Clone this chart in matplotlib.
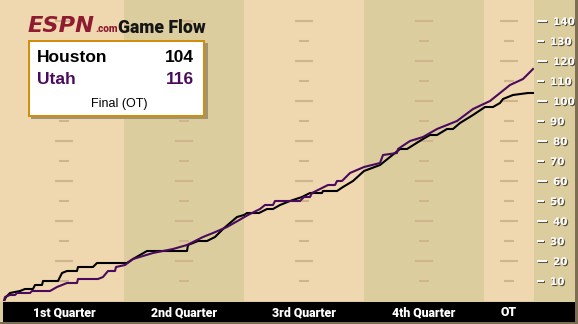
import numpy as np
import matplotlib
matplotlib.use('Agg')
import matplotlib.pyplot as plt
import matplotlib.patheffects as pe
import matplotlib.ticker as mticker
import matplotlib.transforms as mtrans
from matplotlib.patches import Rectangle

# running score vs game clock (minutes; 48 regulation + 5 OT)
hou_min = [0, 0.2, 0.6, 1.6, 2.1, 2.9, 3.1, 3.8, 3.9, 5.4, 5.8, 6.3, 7.3, 7.4, 8.9,
           9.3, 12.3, 12.9, 14.3, 18.3, 18.4, 19.4, 20.3, 21.1, 21.9, 22.6, 23.3,
           24.0, 24.3, 25.5, 26.3, 26.9, 27.6, 28.6, 29.8, 30.6, 31.8, 31.9, 33.3,
           33.9, 34.9, 36.0, 37.6, 38.6, 39.6, 40.3, 41.9, 42.6, 43.3, 44.3, 44.9,
           45.6, 46.9, 48.1, 48.9, 49.6, 49.9, 50.9, 52.4, 52.9]
hou_pts = [0, 2, 4, 5, 6, 6, 8, 8, 10, 10, 14, 15, 15, 17, 17,
           19, 19, 21, 25, 25, 28, 30, 30, 32, 36, 39, 42,
           43, 44, 44, 46, 46, 48, 50, 52, 54, 54, 55, 55,
           57, 60, 65, 68, 72, 76, 76, 81, 83, 83, 86, 86,
           89, 93, 97, 97, 99, 101, 103, 104, 104]

uta_min = [0, 0.1, 0.6, 1.1, 1.3, 2.6, 2.8, 4.6, 5.3, 6.3, 7.3, 7.4, 9.4, 9.9,
           10.4, 11.1, 11.2, 12.1, 12.9, 14.9, 16.9, 18.3, 19.9, 20.9, 22.3, 24.4,
           25.6, 26.1, 26.9, 27.1, 29.6, 30.0, 30.6, 30.8, 31.6, 32.4, 33.1, 33.3,
           33.8, 34.6, 36.0, 37.6, 37.9, 39.3, 39.4, 40.6, 41.9, 43.3, 45.3, 46.9,
           48.6, 49.6, 50.6, 51.9, 52.9]
uta_pts = [0, 2, 3, 3, 4, 4, 5, 5, 7, 9, 9, 11, 11, 12,
           15, 15, 17, 18, 21, 24, 26, 28, 32, 34, 37, 43,
           46, 48, 48, 50, 50, 52, 52, 54, 56, 58, 58, 60,
           60, 64, 67, 69, 73, 74, 76, 80, 82, 86, 90, 96,
           100, 104, 108, 111, 116]

periods = ['1st Quarter', '2nd Quarter', '3rd Quarter', '4th Quarter', 'OT']
period_start = [0, 12, 24, 36, 48]
period_end = [12, 24, 36, 48, 53]

score_ticks = list(range(10, 150, 10))
teams = ['Houston', 'Utah']
finals = [104, 116]
status = 'Final (OT)'

LIGHT = '#efd7af'
DARK = '#dccd9f'
GRID = '#cfb48c'
PURPLE = '#4b0a5e'
SANS = 'Liberation Sans'
HEAVY = ['Roboto', 'DejaVu Sans']

W, H = 578, 324
fig = plt.figure(figsize=(W / 100, H / 100), dpi=100, facecolor=DARK)

ax = fig.add_axes([0, 23 / H, 534 / W, 301 / H])
ax.set_xlim(-0.4, 53)
ax.set_ylim(0, 150.5)
ax.set_facecolor(DARK)

# alternating period bands and short guide dashes in the middle of each
for i, (a, b) in enumerate(zip(period_start, period_end)):
    ax.axvspan(a if i else -0.4, b, color=LIGHT if i % 2 == 0 else DARK,
               lw=0, zorder=0)
    mid = (a + b) / 2
    for v in score_ticks:
        half = 0.9 if v % 20 == 0 else 0.5
        ax.hlines(v, mid - half, mid + half, color=GRID, lw=1.5, zorder=1)

ax.plot(hou_min, hou_pts, color='black', lw=1.5, zorder=3)
ax.plot(uta_min, uta_pts, color=PURPLE, lw=1.5, zorder=4)

# score axis on the right
for s in ['left', 'top', 'bottom']:
    ax.spines[s].set_visible(False)
ax.spines['right'].set_position(('outward', 2.2))
ax.spines['right'].set_visible(False)
ax.set_xticks([])
ax.yaxis.tick_right()
ax.yaxis.set_major_locator(mticker.FixedLocator([v for v in score_ticks if v % 20 == 0]))
ax.yaxis.set_minor_locator(mticker.FixedLocator([v for v in score_ticks if v % 20]))
ax.yaxis.set_major_formatter(mticker.FormatStrFormatter('%d'))
ax.yaxis.set_minor_formatter(mticker.FormatStrFormatter('%d'))
ax.tick_params(axis='y', which='major', length=7.2, width=1.4, color='white',
               labelcolor='white', labelsize=7.5, pad=4.3)
ax.tick_params(axis='y', which='minor', length=5.0, width=1.4, color='white',
               labelcolor='white', labelsize=7.5, pad=4.3)
shadow = [pe.withSimplePatchShadow(offset=(0.8, -0.8), shadow_rgbFace='#5a5040', alpha=1)]
for lab in ax.get_yticklabels(which='both'):
    lab.set_fontweight('bold')
    lab.set_path_effects(shadow)
for t in ax.yaxis.get_major_ticks() + ax.yaxis.get_minor_ticks():
    t.tick2line.set_path_effects([pe.SimpleLineShadow(offset=(0.8, -0.8),
                                  shadow_color='#5a5040', alpha=1), pe.Normal()])

# overlay in pixel units for frame, period bar, title and score box
ov = fig.add_axes([0, 0, 1, 1], zorder=5)
ov.set_xlim(0, W)
ov.set_ylim(H, 0)
ov.axis('off')
ov.patch.set_alpha(0)

ov.add_patch(Rectangle((3, 302), 572, 20, color='black', lw=0))
ov.add_patch(Rectangle((575, 0), 3, H, color='#7d6d52', lw=0))
ov.add_patch(Rectangle((0, 322), W, 2, color='#7d6d52', lw=0))

bar = mtrans.blended_transform_factory(ax.transData, ov.transData)
for name, a, b in zip(periods, period_start, period_end):
    ov.text((a + b) / 2, 312.5, name, transform=bar, ha='center', va='center',
            color='white', fontsize=8.8, fontweight='black', family=HEAVY)

ov.text(28, 32, 'ESPN', color='#8e1b30', fontsize=16.2, fontweight='bold',
        style='italic', family='DejaVu Sans', va='baseline')
ov.hlines([21.5, 26.5], 28, 96, color=LIGHT, lw=0.5)
ov.text(95, 32, '.com', color='#8e1b30', fontsize=7.2, fontweight='black',
        family=HEAVY, va='baseline')
ov.text(118, 33, 'Game Flow', color='#161616', fontsize=12.7, fontweight='black',
        family=HEAVY, va='baseline')

ov.add_patch(Rectangle((31, 43), 177, 76, color='#a09476', lw=0))
ov.add_patch(Rectangle((29, 41), 175, 75, fc='white', ec='#d18e0c', lw=1.44))
for name, pts, col, base in zip(teams, finals, ['black', PURPLE], [62, 84]):
    ov.text(37, base, name, color=col, fontsize=12.5, fontweight='bold',
            family=SANS, va='baseline')
    ov.text(194, base, str(pts), color=col, fontsize=12.5, fontweight='bold',
            family=SANS, va='baseline', ha='right')
ov.text(119, 107, status, color='black', fontsize=9, family=SANS,
        va='baseline', ha='center')

fig.savefig('out.png', dpi=100, facecolor=fig.get_facecolor())
